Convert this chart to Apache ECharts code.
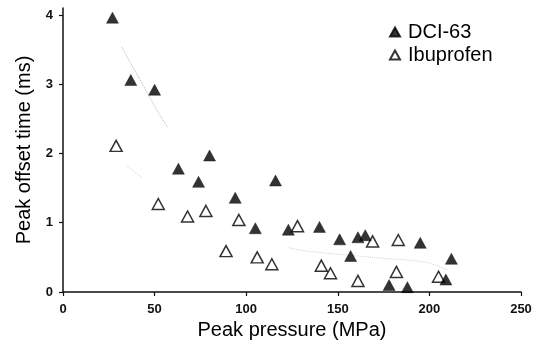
<!DOCTYPE html>
<html>
<head>
<meta charset="utf-8">
<script src="https://cdn.jsdelivr.net/npm/echarts@6/dist/echarts.min.js"></script>
<style>
  html, body { margin: 0; padding: 0; background: #fff; }
  #chart { width: 536px; height: 346px; }
</style>
</head>
<body>
<div id="chart"></div>
<script>
// values
var dciX = [27, 37, 50, 63, 74, 80, 94, 105, 116, 123, 140, 151, 157, 161, 165, 178, 188, 195, 209, 212];
var dciY = [3.96, 3.06, 2.92, 1.78, 1.59, 1.97, 1.36, 0.92, 1.61, 0.90, 0.94, 0.76, 0.52, 0.79, 0.82, 0.10, 0.07, 0.71, 0.18, 0.48];

var ibuX = [29, 52, 68, 78, 96, 89, 106, 114, 128, 141, 146, 161, 169, 183, 182, 205];
var ibuY = [2.11, 1.27, 1.09, 1.17, 1.04, 0.59, 0.50, 0.40, 0.95, 0.38, 0.27, 0.16, 0.73, 0.75, 0.29, 0.22];

// faint dotted fit lines (only the parts that are visible)
var dciFitX = [32, 52, 57];
var dciFitY = [3.54, 2.59, 2.38];
var ibuFitX = [35, 43, 80, 123, 133, 173, 198, 210];
var ibuFitY = [1.82, 1.65, '-', 0.64, 0.59, 0.49, 0.43, 0.32];

var xTicks = [0, 50, 100, 150, 200, 250];
var yTicks = [0, 1, 2, 3, 4];

function pairs(xs, ys) {
	return xs.map(function (x, i) { return [x, ys[i]]; });
}

var chart = echarts.init(document.getElementById('chart'));
var font = '"Liberation Sans", Arial, sans-serif';

var option = {
	animation: false,
	grid: { left: 63, right: 15, top: 8, bottom: 54 },
	legend: {
		data: ['DCI-63', 'Ibuprofen'],
		orient: 'vertical',
		left: 384,
		top: 17,
		itemWidth: 10,
		itemHeight: 9,
		itemGap: 3,
		textStyle: { fontFamily: font, fontSize: 20, color: '#000', padding: [0, 0, 0, 3] }
	},
	xAxis: {
		type: 'value',
		min: 0,
		max: 250,
		interval: 50,
		name: 'Peak pressure (MPa)',
		nameLocation: 'middle',
		nameGap: 24,
		nameTextStyle: { fontFamily: font, fontSize: 20, color: '#000' },
		axisLine: { lineStyle: { color: '#111', width: 1.5 } },
		axisTick: { length: 4, customValues: xTicks, lineStyle: { color: '#111', width: 1.2 } },
		axisLabel: { customValues: xTicks, margin: 11, fontFamily: font, fontSize: 13, fontWeight: 'bold', color: '#111' },
		splitLine: { show: false }
	},
	yAxis: {
		type: 'value',
		min: 0,
		max: 4.1,
		name: 'Peak offset time (ms)',
		nameLocation: 'middle',
		nameGap: 28,
		nameTextStyle: { fontFamily: font, fontSize: 20, color: '#000' },
		axisLine: { show: true, lineStyle: { color: '#111', width: 1.5 } },
		axisTick: { show: true, length: 4, customValues: yTicks, lineStyle: { color: '#111', width: 1.2 } },
		axisLabel: { customValues: yTicks, margin: 10, fontFamily: font, fontSize: 13, fontWeight: 'bold', color: '#111' },
		splitLine: { show: false }
	},
	series: [
		{
			name: 'DCI-63 fit',
			type: 'line',
			data: pairs(dciFitX, dciFitY),
			showSymbol: false,
			silent: true,
			lineStyle: { color: '#888', width: 1, type: 'dotted', opacity: 0.6 },
			z: 1
		},
		{
			name: 'Ibuprofen fit',
			type: 'line',
			data: pairs(ibuFitX, ibuFitY),
			showSymbol: false,
			silent: true,
			connectNulls: false,
			smooth: 0.3,
			lineStyle: { color: '#aaa', width: 1, type: 'dotted', opacity: 0.5 },
			z: 1
		},
		{
			name: 'DCI-63',
			type: 'scatter',
			symbol: 'triangle',
			symbolSize: [12, 11],
			data: pairs(dciX, dciY),
			itemStyle: { color: '#000', borderColor: '#000', borderWidth: 0.5 },
			z: 3
		},
		{
			name: 'Ibuprofen',
			type: 'scatter',
			symbol: 'triangle',
			symbolSize: [12, 11],
			data: pairs(ibuX, ibuY),
			itemStyle: { color: '#fff', borderColor: '#000', borderWidth: 1.5 },
			z: 2
		}
	]
};

chart.setOption(option);

window.onresize = function () {
	chart.resize();
};
</script>
</body>
</html>
